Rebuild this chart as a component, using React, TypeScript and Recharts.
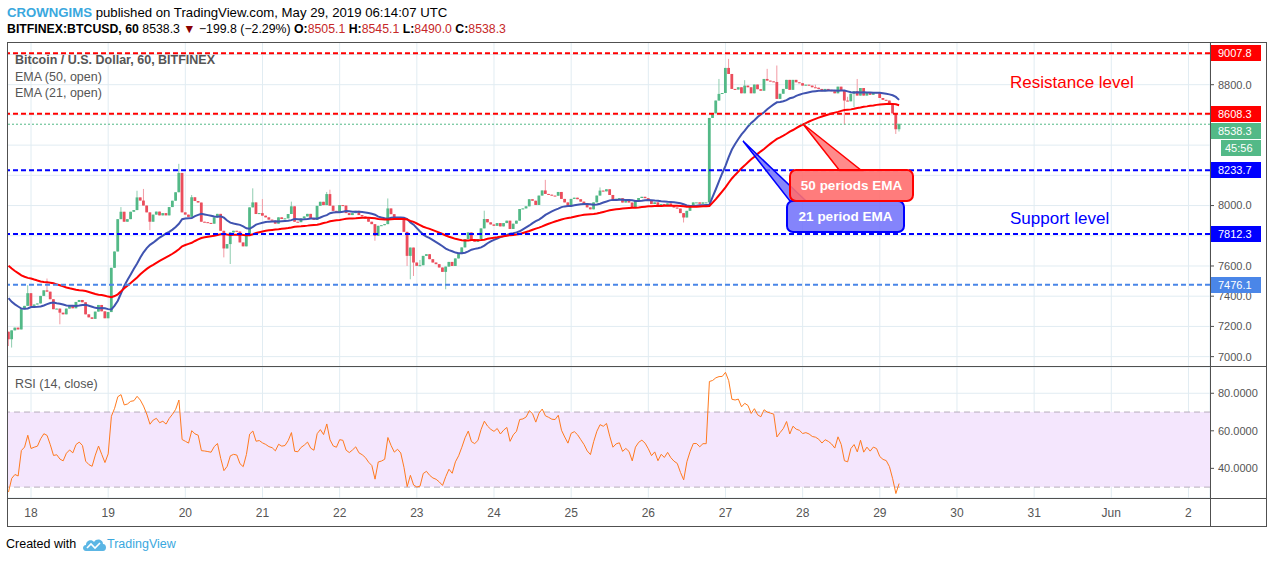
import React from 'react';
import { ComposedChart, Bar, Line, XAxis, YAxis, CartesianGrid, ReferenceLine, ReferenceArea } from 'recharts';

// hourly closes, BITFINEX:BTCUSD 60 (first bar = May 17 17:00)
const may17 = [7115, 7174, 7192, 7180, 7314, 7336, 7420];
const may18 = [7336, 7345, 7352, 7402, 7439, 7430, 7380, 7314, 7318, 7291, 7280, 7318, 7335, 7320, 7362, 7375, 7360, 7280, 7260, 7250, 7298, 7342, 7300, 7254];
const may19 = [7295, 7588, 7696, 7910, 7959, 7893, 7910, 7959, 7970, 8054, 8033, 8000, 7955, 7893, 7940, 7960, 7935, 7950, 7935, 7990, 8032, 8088, 8216, 7955];
const may20 = [7940, 7925, 8055, 8030, 8020, 7893, 7890, 7885, 7880, 7922, 7945, 7833, 7716, 7745, 7822, 7833, 7828, 7756, 7730, 7811, 7988, 8021, 7944, 7950];
const may21 = [7933, 7922, 7907, 7900, 7880, 7922, 7911, 7915, 7944, 7995, 7893, 7890, 7915, 7928, 7945, 7915, 7905, 7998, 8025, 8003, 8076, 7999, 7965, 7958];
const may22 = [8003, 8000, 7950, 7937, 7950, 7965, 7937, 7928, 7915, 7893, 7877, 7800, 7866, 7870, 7877, 7981, 7943, 7910, 7924, 7906, 7826, 7667, 7722, 7623];
const may23 = [7601, 7605, 7667, 7678, 7645, 7623, 7612, 7590, 7561, 7596, 7627, 7600, 7650, 7679, 7723, 7778, 7822, 7770, 7760, 7778, 7849, 7911, 7889, 7875];
const may24 = [7866, 7884, 7862, 7884, 7900, 7845, 7880, 7900, 7977, 7981, 7995, 8042, 8032, 8004, 8066, 8100, 8077, 8072, 8066, 8065, 8090, 8044, 8021, 7999];
const may25 = [8044, 8052, 8042, 8026, 8010, 7988, 7975, 8021, 8066, 8099, 8094, 8108, 8070, 8032, 8045, 8049, 8020, 8030, 8020, 7987, 8032, 8050, 8058, 8049];
const may26 = [8032, 8010, 8021, 7992, 8010, 8000, 8014, 7998, 7987, 7980, 7950, 7921, 7965, 7995, 8021, 8021, 8012, 8021, 8021, 8580, 8610, 8695, 8739, 8745];
const may27 = [8911, 8871, 8772, 8768, 8783, 8743, 8794, 8783, 8743, 8801, 8770, 8760, 8838, 8827, 8822, 8818, 8706, 8740, 8772, 8832, 8766, 8832, 8816, 8810];
const may28 = [8794, 8800, 8794, 8783, 8780, 8772, 8757, 8772, 8766, 8757, 8743, 8787, 8761, 8695, 8690, 8740, 8757, 8728, 8778, 8728, 8750, 8733, 8750, 8744];
const may29 = [8712, 8700, 8695, 8670, 8610, 8505.1, 8538.3];

const firstOpen = 7165;
const firstHour = -7; // hours relative to May 18 00:00

// wick tips that stand out from the bodies: [bar index, price]
const wickHighs: [number, number][] = [
  [6, 7473], [12, 7517], [35, 7990], [40, 8098], [42, 8110], [53, 8276], [57, 8070], [76, 8114], [79, 8043],
  [88, 8026], [99, 8090], [100, 8105], [118, 8047], [128, 7640], [148, 7966], [167, 8170], [184, 8120],
  [221, 8838], [224, 8971], [229, 8830], [236, 8905], [239, 8927], [251, 8800], [261, 8720], [264, 8838], [277, 8545.1],
];
const wickLows: [number, number][] = [
  [0, 7070], [1, 7060], [16, 7214], [44, 7837], [67, 7657], [69, 7613], [114, 7767], [124, 7600], [125, 7512],
  [126, 7534], [136, 7446], [210, 7888], [260, 8535], [263, 8650], [276, 8474], [277, 8490],
];

// indicator start values read at the left edge
const ema50Start = 7620;
const ema21Start = 7410;
const rsiGainStart = 12;
const rsiLossStart = 28;

const dayTicks = [0, 24, 48, 72, 96, 120, 144, 168, 192, 216, 240, 264, 288, 312, 336, 360];
const dayLabels = ['18', '19', '20', '21', '22', '23', '24', '25', '26', '27', '28', '29', '30', '31', 'Jun', '2'];
const priceTicks = [7000, 7200, 7400, 7600, 7800, 8000, 8200, 8400, 8600, 8800, 9000];
const rsiTicks = [40, 60, 80];

const resistanceLevels = [9007.8, 8608.3];
const supportLevels = [8233.7, 7812.3];
const lowerSupport = [7476.1];
const lastPrice = 8538.3;
const countdown = '45:56';

const closes = [...may17, ...may18, ...may19, ...may20, ...may21, ...may22, ...may23, ...may24, ...may25, ...may26, ...may27, ...may28, ...may29];

const hiMap = new Map(wickHighs);
const loMap = new Map(wickLows);
let e50 = ema50Start;
let e21 = ema21Start;
let avgGain = rsiGainStart;
let avgLoss = rsiLossStart;
const bars = closes.map((c, i) => {
  const o = i === 0 ? firstOpen : closes[i - 1];
  const hi = Math.max(o, c, hiMap.get(i) ?? -Infinity);
  const lo = Math.min(o, c, loMap.get(i) ?? Infinity);
  e50 += (2 / 51) * (o - e50);
  e21 += (2 / 22) * (o - e21);
  const d = c - o;
  avgGain = (avgGain * 13 + Math.max(d, 0)) / 14;
  avgLoss = (avgLoss * 13 + Math.max(-d, 0)) / 14;
  const rsi = 100 - 100 / (1 + avgGain / avgLoss);
  return { h: firstHour + i, range: [lo, hi], o, c, hi, lo, ema50: e50, ema21: e21, rsi };
});

const X_DOMAIN: [number, number] = [-7.47, 366.7];
const P_MIN = 6938;
const P_MAX = 9076;
const MAIN_TOP = 43;
const MAIN_H = 323;
const priceY = (p: number) => MAIN_TOP + ((P_MAX - p) / (P_MAX - P_MIN)) * MAIN_H;

const FONT = '"Liberation Sans", Arial, sans-serif';
const UP = '#53b987';
const DOWN = '#eb4d5c';
const GRID = '#e1ecf2';
const FRAME = '#505050';

function Candle(props: any) {
  const { x, y, width, height, payload } = props;
  if (!payload || x == null) return null;
  const { o, c, hi, lo } = payload;
  const top = Math.min(y, y + height);
  const H = Math.abs(height);
  const span = hi - lo;
  const toY = (p: number) => (span > 0 ? top + ((hi - p) / span) * H : top);
  const cx = x + width / 2;
  const up = c >= o;
  const yo = toY(o);
  const yc = toY(c);
  return (
    <g>
      <line x1={cx} x2={cx} y1={toY(hi)} y2={toY(lo)} stroke={up ? '#8fcdb0' : '#f29aa3'} strokeWidth={1} />
      <rect x={cx - 1.4} y={Math.min(yo, yc)} width={2.8} height={Math.max(1, Math.abs(yo - yc))} fill={up ? UP : DOWN} />
    </g>
  );
}

const levelLines = [
  ...resistanceLevels.map((v) => ({ v, color: '#ff0000' })),
  ...supportLevels.map((v) => ({ v, color: '#0000ff' })),
  ...lowerSupport.map((v) => ({ v, color: '#4a86e8' })),
];

// right-axis price tags, stacked so they do not overlap
const tags = [...levelLines.map((l) => ({ text: l.v.toFixed(1), color: l.color, y: priceY(l.v), left: 1211 })), { text: lastPrice.toFixed(1), color: UP, y: priceY(lastPrice), left: 1211 }]
  .sort((a, b) => a.y - b.y);
const placedTags: { text: string; color: string; top: number; left: number }[] = [];
let prevBottom = -Infinity;
for (const t of tags) {
  const top = Math.max(t.y - 8, prevBottom + 1);
  placedTags.push({ text: t.text, color: t.color, top, left: t.left });
  prevBottom = top + 16;
  if (t.text === lastPrice.toFixed(1)) {
    placedTags.push({ text: countdown, color: UP, top: prevBottom + 1, left: 1221 });
    prevBottom += 17;
  }
}
// axis labels that sit under a tag are covered, as on the original
const visiblePriceTicks = priceTicks.filter((p) => !placedTags.some((t) => Math.abs(priceY(p) - (t.top + 8)) < 10));

export default function App() {
  return (
    <div style={{ position: 'absolute', left: 0, top: 0, width: 1274, height: 562, background: '#fff', fontFamily: FONT, overflow: 'hidden' }}>
      <div style={{ position: 'absolute', left: 7, top: 5, fontSize: 13.2, color: '#000', whiteSpace: 'nowrap' }}>
        <span style={{ color: '#3aa8de', fontWeight: 'bold' }}>CROWNGIMS</span> published on TradingView.com, May 29, 2019 06:14:07 UTC
      </div>
      <div style={{ position: 'absolute', left: 7, top: 22, fontSize: 12.3, color: '#000', whiteSpace: 'nowrap' }}>
        <b>BITFINEX:BTCUSD, 60</b> 8538.3 <span style={{ color: '#8b0000' }}>▼</span> −199.8 (−2.29%) <b>O:</b>
        <span style={{ color: '#c62828' }}>8505.1</span> <b>H:</b><span style={{ color: '#c62828' }}>8545.1</span> <b>L:</b>
        <span style={{ color: '#c62828' }}>8490.0</span> <b>C:</b><span style={{ color: '#c62828' }}>8538.3</span>
      </div>

      <div style={{ position: 'absolute', left: 7, top: MAIN_TOP }}>
        <ComposedChart width={1260} height={MAIN_H} data={bars} margin={{ top: 0, right: 0, bottom: 0, left: 0 }}>
          <CartesianGrid stroke={GRID} strokeWidth={1} horizontalValues={priceTicks} />
          <XAxis dataKey="h" type="number" domain={X_DOMAIN} ticks={dayTicks} allowDataOverflow hide />
          <YAxis
            orientation="right"
            width={57}
            domain={[P_MIN, P_MAX]}
            allowDataOverflow
            ticks={visiblePriceTicks}
            tickFormatter={(v: number) => v.toFixed(1)}
            tick={{ fill: '#555', fontSize: 11, fontFamily: FONT }}
            tickSize={4}
            tickMargin={4}
            tickLine={{ stroke: FRAME }}
            axisLine={false}
          />
          <Bar dataKey="range" barSize={3} shape={<Candle />} isAnimationActive={false} />
          <Line dataKey="ema21" type="linear" stroke="#3f53b0" strokeWidth={2} dot={false} isAnimationActive={false} />
          <Line dataKey="ema50" type="linear" stroke="#ff0000" strokeWidth={2} dot={false} isAnimationActive={false} />
          {levelLines.map((l) => (
            <ReferenceLine key={l.v} y={l.v} stroke={l.color} strokeWidth={2} strokeDasharray="5 3" />
          ))}
          <ReferenceLine y={lastPrice} stroke={UP} strokeWidth={1} strokeDasharray="2 2" />
        </ComposedChart>
      </div>

      <div style={{ position: 'absolute', left: 7, top: 367 }}>
        <ComposedChart width={1260} height={159} data={bars} margin={{ top: 0, right: 0, bottom: 0, left: 0 }}>
          <ReferenceArea y1={30} y2={70} fill="#f4e6fd" fillOpacity={1} stroke="none" />
          <CartesianGrid stroke={GRID} strokeWidth={1} />
          <XAxis
            dataKey="h"
            type="number"
            domain={X_DOMAIN}
            allowDataOverflow
            ticks={dayTicks}
            tickFormatter={(v: number) => dayLabels[dayTicks.indexOf(v)]}
            height={28}
            axisLine={false}
            tickLine={false}
            tickMargin={4}
            tick={{ fill: '#555', fontSize: 12, fontFamily: FONT }}
          />
          <YAxis
            orientation="right"
            width={57}
            domain={[24.2, 94]}
            allowDataOverflow
            ticks={rsiTicks}
            tickFormatter={(v: number) => v.toFixed(4)}
            tick={{ fill: '#555', fontSize: 11, fontFamily: FONT }}
            tickSize={4}
            tickMargin={4}
            tickLine={{ stroke: FRAME }}
            axisLine={false}
          />
          <ReferenceLine y={70} stroke="#b7adbb" strokeDasharray="6 4" />
          <ReferenceLine y={30} stroke="#b7adbb" strokeDasharray="6 4" />
          <Line dataKey="rsi" type="linear" stroke="#ff7a1f" strokeWidth={1} dot={false} isAnimationActive={false} />
        </ComposedChart>
      </div>

      <div style={{ position: 'absolute', left: 15, top: 53, fontSize: 12.5, color: '#555', fontWeight: 'bold', whiteSpace: 'nowrap' }}>
        Bitcoin / U.S. Dollar, 60, BITFINEX
      </div>
      <div style={{ position: 'absolute', left: 15, top: 70, fontSize: 12.5, color: '#555', whiteSpace: 'nowrap' }}>EMA (50, open)</div>
      <div style={{ position: 'absolute', left: 15, top: 86, fontSize: 12.5, color: '#555', whiteSpace: 'nowrap' }}>EMA (21, open)</div>
      <div style={{ position: 'absolute', left: 15, top: 377, fontSize: 12.5, color: '#555', whiteSpace: 'nowrap' }}>RSI (14, close)</div>

      <div style={{ position: 'absolute', left: 1010, top: 73, fontSize: 17, color: '#ff0000', whiteSpace: 'nowrap' }}>Resistance level</div>
      <div style={{ position: 'absolute', left: 1010, top: 209, fontSize: 17, color: '#0000ff', whiteSpace: 'nowrap' }}>Support level</div>

      <svg width={1274} height={562} style={{ position: 'absolute', left: 0, top: 0, pointerEvents: 'none' }}>
        {/* frame */}
        <rect x={7.5} y={42.5} width={1259} height={484} fill="none" stroke={FRAME} strokeWidth={1} />
        <line x1={7} x2={1267} y1={366.5} y2={366.5} stroke={FRAME} />
        <line x1={7} x2={1267} y1={498.5} y2={498.5} stroke={FRAME} />
        <line x1={1210.5} x2={1210.5} y1={43} y2={527} stroke={FRAME} />

        {/* callouts */}
        <polygon points="743,141 790,201 806,201" fill="rgba(95,95,250,0.75)" stroke="#0000ff" strokeWidth={1.5} />
        <rect x={787} y={201} width={117} height={31} rx={6} fill="rgba(110,110,250,0.85)" stroke="#0000ff" strokeWidth={2} />
        <polygon points="803,124 840,171 862,171" fill="rgba(255,100,100,0.75)" stroke="#ff0000" strokeWidth={1.5} />
        <rect x={790} y={170} width={123} height={31} rx={6} fill="rgba(255,110,110,0.9)" stroke="#ff0000" strokeWidth={2} />
        <text x={851.5} y={190} textAnchor="middle" fill="#fff" fontSize={13.5} fontWeight="bold" fontFamily={FONT}>50 periods EMA</text>
        <text x={845.5} y={221} textAnchor="middle" fill="#fff" fontSize={13.5} fontWeight="bold" fontFamily={FONT}>21 period EMA</text>

        {/* logo */}
        <g transform="translate(82,537)">
          <path d="M4 14 C0 14 0 8 4 8 C4 3 10 2 12 5 C14 1 21 2 21 7 C25 7 25 14 21 14 Z" fill="#5cb6e4" />
          <polyline points="5,11 9,7 13,11 18,6" fill="none" stroke="#fff" strokeWidth={1.6} />
        </g>
      </svg>

      {placedTags.map((t) => (
        <div
          key={t.text}
          style={{ position: 'absolute', left: t.left, top: t.top, width: 1261 - t.left, height: 16, background: t.color, color: '#fff', fontSize: 11, lineHeight: '16px', paddingLeft: t.left === 1211 ? 7 : 4, boxSizing: 'border-box', whiteSpace: 'nowrap' }}
        >
          {t.text}
        </div>
      ))}

      <div style={{ position: 'absolute', left: 6, top: 537, fontSize: 12.5, color: '#000', whiteSpace: 'nowrap' }}>Created with</div>
      <div style={{ position: 'absolute', left: 107, top: 537, fontSize: 12.5, color: '#3aa8de', whiteSpace: 'nowrap' }}>TradingView</div>
    </div>
  );
}
